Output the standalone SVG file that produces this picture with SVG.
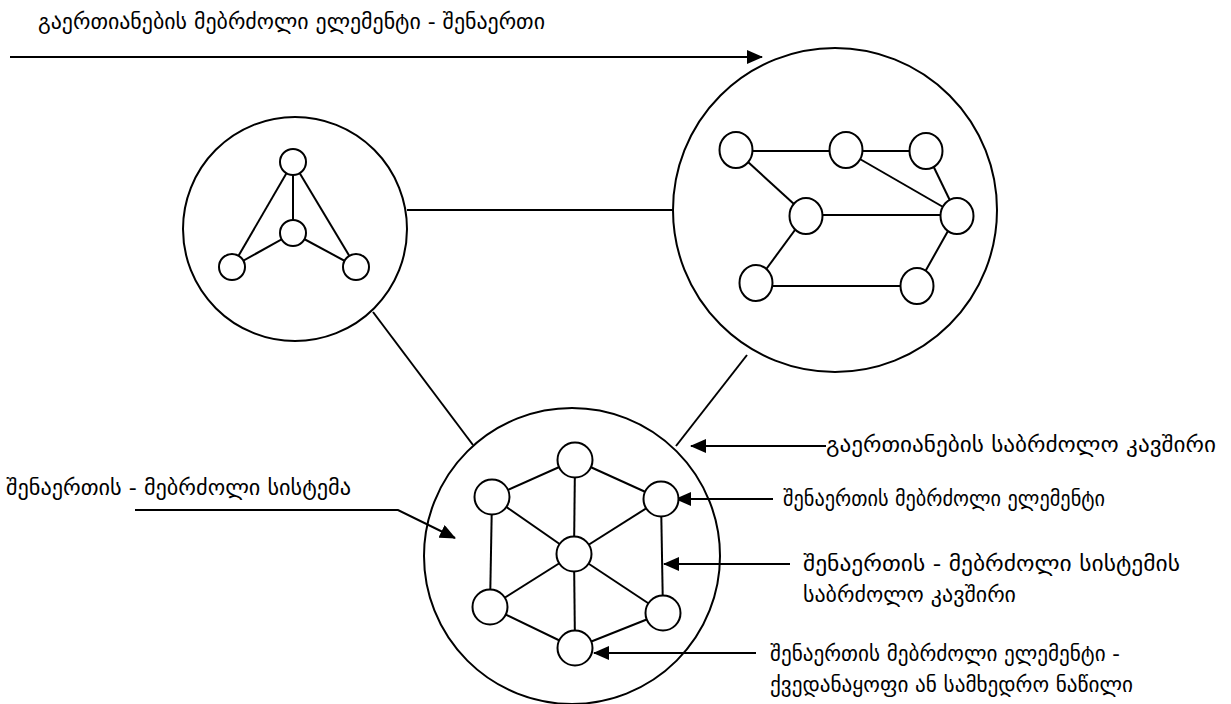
<svg xmlns="http://www.w3.org/2000/svg" width="1231" height="704" viewBox="0 0 1231 704">
<defs>
<style>
.big{fill:none;stroke:#000;stroke-width:2}
.n{fill:#fff;stroke:#000;stroke-width:2}
.e{stroke:#000;stroke-width:2;fill:none}
.t{font-family:"DejaVu Sans",sans-serif;font-size:21px;fill:#000}
</style>
<marker id="ah" markerUnits="userSpaceOnUse" markerWidth="16" markerHeight="14" refX="15" refY="7" orient="auto">
<path d="M0,0 L16,7 L0,14 Z" fill="#000"/>
</marker>
</defs>
<rect width="1231" height="704" fill="#fff"/>
<g id="connectors">
<line class="e" x1="10" y1="57" x2="762" y2="57" marker-end="url(#ah)"/>
<line class="e" x1="407" y1="210" x2="673" y2="210"/>
<line class="e" x1="373" y1="312" x2="473" y2="445"/>
<line class="e" x1="747" y1="355" x2="676" y2="446"/>
<line class="e" x1="826" y1="446" x2="691" y2="446" marker-end="url(#ah)"/>
<line class="e" x1="773" y1="499" x2="676" y2="499" marker-end="url(#ah)"/>
<line class="e" x1="790" y1="564" x2="664" y2="564" marker-end="url(#ah)"/>
<line class="e" x1="756" y1="653" x2="594" y2="653" marker-end="url(#ah)"/>
<polyline class="e" points="135,510 398,510 455,538" marker-end="url(#ah)"/>
</g>
<g id="combat-element-left">
<circle class="big" cx="295" cy="229" r="112"/>
<g class="e">
<line x1="293" y1="162" x2="293" y2="233"/>
<line x1="293" y1="162" x2="232" y2="267"/>
<line x1="293" y1="162" x2="356" y2="267"/>
<line x1="293" y1="233" x2="232" y2="267"/>
<line x1="293" y1="233" x2="356" y2="267"/>
</g>
<circle class="n" cx="293" cy="162" r="13"/>
<circle class="n" cx="293" cy="233" r="13"/>
<circle class="n" cx="232" cy="267" r="13"/>
<circle class="n" cx="356" cy="267" r="13"/>
</g>
<g id="combat-element-right">
<circle class="big" cx="835" cy="210" r="162"/>
<g class="e">
<line x1="736" y1="151" x2="846" y2="151"/>
<line x1="846" y1="151" x2="926" y2="151"/>
<line x1="846" y1="151" x2="957" y2="215"/>
<line x1="926" y1="151" x2="957" y2="215"/>
<line x1="736" y1="151" x2="806" y2="215"/>
<line x1="806" y1="215" x2="957" y2="215"/>
<line x1="806" y1="215" x2="756" y2="283"/>
<line x1="957" y1="215" x2="917" y2="286"/>
<line x1="756" y1="286" x2="917" y2="286"/>
</g>
<ellipse class="n" cx="736" cy="150" rx="16.5" ry="18"/>
<ellipse class="n" cx="846" cy="150" rx="16.5" ry="18"/>
<ellipse class="n" cx="926" cy="151" rx="16.5" ry="18"/>
<ellipse class="n" cx="806" cy="216" rx="16.5" ry="18"/>
<ellipse class="n" cx="957" cy="216" rx="16.5" ry="18"/>
<ellipse class="n" cx="756" cy="283" rx="16.5" ry="18"/>
<ellipse class="n" cx="917" cy="286" rx="16.5" ry="18"/>
</g>
<g id="unit-system">
<circle class="big" cx="572" cy="556" r="148"/>
<g class="e">
<line x1="575" y1="460" x2="492" y2="497"/>
<line x1="575" y1="460" x2="661" y2="499"/>
<line x1="575" y1="460" x2="574" y2="554"/>
<line x1="492" y1="497" x2="574" y2="554"/>
<line x1="661" y1="499" x2="574" y2="554"/>
<line x1="492" y1="497" x2="490" y2="607"/>
<line x1="661" y1="499" x2="663" y2="613"/>
<line x1="490" y1="607" x2="574" y2="554"/>
<line x1="663" y1="613" x2="574" y2="554"/>
<line x1="574" y1="554" x2="575" y2="648"/>
<line x1="490" y1="607" x2="575" y2="648"/>
<line x1="663" y1="613" x2="575" y2="648"/>
</g>
<circle class="n" cx="575" cy="460" r="17.5"/>
<circle class="n" cx="492" cy="497" r="17.5"/>
<circle class="n" cx="661" cy="499" r="17.5"/>
<circle class="n" cx="574" cy="554" r="17.5"/>
<circle class="n" cx="490" cy="607" r="17.5"/>
<circle class="n" cx="663" cy="613" r="17.5"/>
<circle class="n" cx="575" cy="648" r="17.5"/>
</g>
<g id="labels">
<text class="t" x="38" y="29" textLength="507" lengthAdjust="spacingAndGlyphs">გაერთიანების მებრძოლი ელემენტი - შენაერთი</text>
<text class="t" x="826" y="452" textLength="390" lengthAdjust="spacingAndGlyphs">გაერთიანების საბრძოლო კავშირი</text>
<text class="t" x="783" y="506" textLength="322" lengthAdjust="spacingAndGlyphs">შენაერთის მებრძოლი ელემენტი</text>
<text class="t" x="803" y="571" textLength="377" lengthAdjust="spacingAndGlyphs">შენაერთის - მებრძოლი სისტემის</text>
<text class="t" x="803" y="602" textLength="213" lengthAdjust="spacingAndGlyphs">საბრძოლო კავშირი</text>
<text class="t" x="770" y="661" textLength="350" lengthAdjust="spacingAndGlyphs">შენაერთის მებრძოლი ელემენტი -</text>
<text class="t" x="770" y="692" textLength="363" lengthAdjust="spacingAndGlyphs">ქვედანაყოფი ან სამხედრო ნაწილი</text>
<text class="t" x="6" y="495" textLength="345" lengthAdjust="spacingAndGlyphs">შენაერთის - მებრძოლი სისტემა</text>
</g>
</svg>
